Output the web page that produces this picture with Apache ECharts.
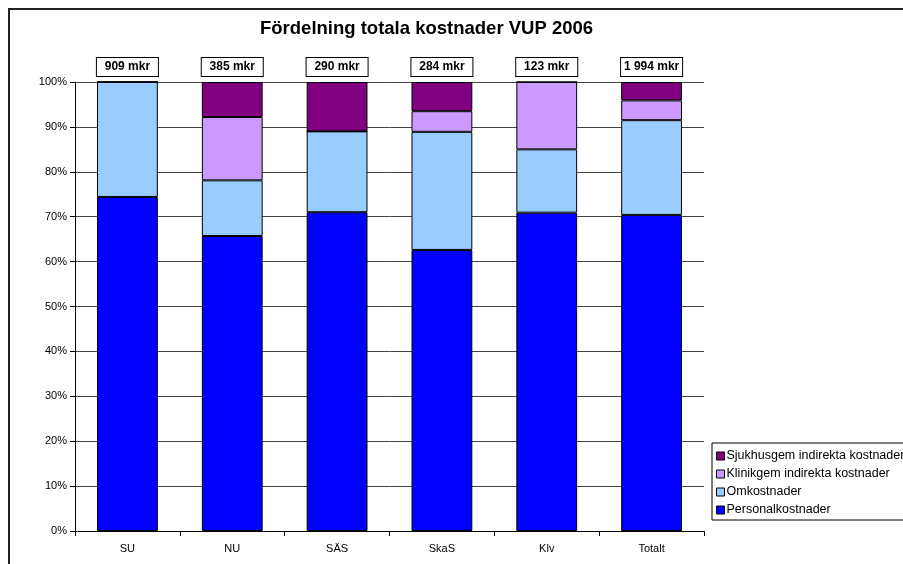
<!DOCTYPE html>
<html>
<head>
<meta charset="utf-8">
<script src="https://cdn.jsdelivr.net/npm/echarts@6/dist/echarts.min.js"></script>
<style>
  html, body { margin: 0; padding: 0; background: #fff; }
  #chart { width: 903px; height: 564px; }
</style>
</head>
<body>
<div id="chart"></div>
<script>
  // kategorier och totalsummor
  var categories = ['SU', 'NU', 'SÄS', 'SkaS', 'Klv', 'Totalt'];
  var totals = ['909 mkr', '385 mkr', '290 mkr', '284 mkr', '123 mkr', '1 994 mkr'];

  // andelar i procent
  var personal = [74.4, 65.7, 71.0, 62.6, 70.9, 70.4];
  var omkostnader = [25.6, 12.4, 18.0, 26.3, 14.1, 21.1];
  var klinikgem = [0, 14.1, 0, 4.6, 15.0, 4.4];
  var sjukhusgem = [0, 7.8, 11.0, 6.5, 0, 4.1];

  var font = 'Arial, "Liberation Sans", sans-serif';

  var chart = echarts.init(document.getElementById('chart'));

  function bar(name, data, color) {
    return {
      name: name,
      type: 'bar',
      stack: 'tot',
      barWidth: '58%',
      data: data,
      itemStyle: { color: color, borderColor: '#000', borderWidth: 1 }
    };
  }

  var option = {
    animation: false,
    backgroundColor: '#fff',
    title: {
      text: 'Fördelning totala kostnader VUP 2006',
      left: 255,
      top: 14,
      textStyle: { fontFamily: font, fontSize: 18.5, fontWeight: 'bold', color: '#000' }
    },
    graphic: [{
      type: 'rect',
      shape: { x: 9, y: 9, width: 1000, height: 1000 },
      style: { fill: 'none', stroke: '#222', lineWidth: 2 },
      silent: true
    }],
    legend: {
      orient: 'vertical',
      left: 712,
      top: 443,
      padding: [6, 40, 3, 4],
      borderColor: '#000',
      borderWidth: 1,
      itemWidth: 8,
      itemHeight: 8,
      itemGap: 4,
      icon: 'rect',
      textStyle: { fontFamily: font, fontSize: 12.5, color: '#000', padding: [0, 0, 0, -3], lineHeight: 14 },
      data: [
        { name: 'Sjukhusgem indirekta kostnader', itemStyle: { borderColor: '#000', borderWidth: 1 } },
        { name: 'Klinikgem indirekta kostnader', itemStyle: { borderColor: '#000', borderWidth: 1 } },
        { name: 'Omkostnader', itemStyle: { borderColor: '#000', borderWidth: 1 } },
        { name: 'Personalkostnader', itemStyle: { borderColor: '#000', borderWidth: 1 } }
      ]
    },
    grid: { left: 75, right: 199, top: 82, bottom: 33 },
    xAxis: [{
      type: 'category',
      data: categories,
      axisLine: { lineStyle: { color: '#000' } },
      axisTick: { show: true, length: 5, lineStyle: { color: '#000' } },
      axisLabel: { fontFamily: font, fontSize: 11, color: '#000', margin: 12 }
    }, {
      type: 'category',
      position: 'top',
      data: totals,
      axisLine: { show: false },
      axisTick: { show: false },
      axisLabel: {
        fontFamily: font, fontSize: 12, fontWeight: 'bold', color: '#000',
        borderColor: '#000', borderWidth: 1, backgroundColor: '#fff',
        width: 57, align: 'center', padding: [3, 2, 3, 2], margin: 6
      }
    }],
    yAxis: {
      type: 'value',
      min: 0,
      max: 100,
      interval: 10,
      axisLine: { show: true, lineStyle: { color: '#000' } },
      axisTick: { show: true, length: 5, lineStyle: { color: '#000' } },
      axisLabel: { formatter: '{value}%', fontFamily: font, fontSize: 11, color: '#000', margin: 8 },
      splitLine: { lineStyle: { color: '#444', width: 1 } }
    },
    series: [
      bar('Personalkostnader', personal, '#0000FF'),
      bar('Omkostnader', omkostnader, '#99CCFF'),
      bar('Klinikgem indirekta kostnader', klinikgem, '#CC99FF'),
      bar('Sjukhusgem indirekta kostnader', sjukhusgem, '#800080')
    ]
  };

  chart.setOption(option);
</script>
</body>
</html>
